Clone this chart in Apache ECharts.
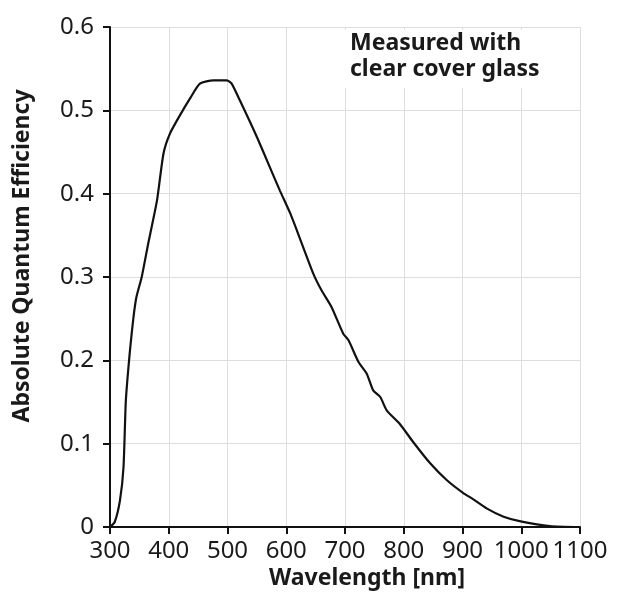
<!DOCTYPE html>
<html>
<head>
<meta charset="utf-8">
<script src="https://cdn.jsdelivr.net/npm/echarts@6/dist/echarts.min.js"></script>
<style>
html,body{margin:0;padding:0;background:#fff;}
#chart{width:640px;height:599px;}
</style>
</head>
<body>
<div id="chart"></div>
<script>
var wavelength = [300, 308, 317, 323, 327, 334, 340, 345, 354, 365, 380, 391, 402, 419, 436, 453, 476, 499, 507, 521, 550, 578, 589, 607, 618, 646, 660, 677, 697, 706, 723, 737, 748, 760, 771, 794, 816, 845, 873, 902, 916, 941, 970, 1001, 1049, 1100];
var efficiency = [0.0, 0.006, 0.032, 0.072, 0.152, 0.212, 0.252, 0.276, 0.300, 0.340, 0.392, 0.448, 0.472, 0.494, 0.514, 0.532, 0.536, 0.536, 0.532, 0.512, 0.468, 0.422, 0.404, 0.376, 0.356, 0.304, 0.284, 0.264, 0.232, 0.224, 0.198, 0.184, 0.164, 0.156, 0.140, 0.123, 0.102, 0.0764, 0.0564, 0.0404, 0.0344, 0.0224, 0.0124, 0.0064, 0.0012, 0.0];
var xTicks = [300, 400, 500, 600, 700, 800, 900, 1000, 1100];
var yTicks = [0, 0.1, 0.2, 0.3, 0.4, 0.5, 0.6];
var xTitle = 'Wavelength [nm]';
var yTitle = 'Absolute Quantum Efficiency';
var noteLines = ['Measured with', 'clear cover glass'];

var FONT = '"Noto Sans", sans-serif';
var chart = echarts.init(document.getElementById('chart'), null, {renderer: 'canvas'});
var pts = wavelength.map(function (w, i) { return [w, efficiency[i]]; });

chart.setOption({
  animation: false,
  backgroundColor: '#fff',
  grid: {left: 110, right: 60, top: 27, bottom: 72, containLabel: false},
  xAxis: {
    type: 'value', min: xTicks[0], max: xTicks[xTicks.length - 1], interval: 100,
    axisLine: {show: true, onZero: false, lineStyle: {color: '#111', width: 2}},
    axisTick: {show: true, length: 7, lineStyle: {color: '#111', width: 2}},
    axisLabel: {fontFamily: FONT, fontSize: 24, color: '#1a1a1a', margin: 12,
      showMinLabel: true, showMaxLabel: true, hideOverlap: false,
      formatter: function (v) { return String(Math.round(v)); }},
    splitLine: {show: true, lineStyle: {color: '#dedede', width: 1}}
  },
  yAxis: {
    type: 'value', min: yTicks[0], max: yTicks[yTicks.length - 1], interval: 0.1,
    axisLine: {show: true, lineStyle: {color: '#111', width: 2}},
    axisTick: {show: true, length: 7, lineStyle: {color: '#111', width: 2}},
    axisLabel: {fontFamily: FONT, fontSize: 24, color: '#1a1a1a', margin: 16,
      showMinLabel: true, showMaxLabel: true,
      formatter: function (v) { return v === 0 ? '0' : v.toFixed(1); }},
    splitLine: {show: true, lineStyle: {color: '#dedede', width: 1}}
  },
  graphic: [
    {type: 'rect', shape: {x: 345, y: 30, width: 210, height: 58}, style: {fill: '#fff'}, z: 5},
    {type: 'text', left: 350, top: 30, z: 6,
      style: {text: noteLines.join('\n'), fontFamily: FONT, fontWeight: 'bold', fontSize: 23, lineHeight: 26, fill: '#1a1a1a'}},
    {type: 'text', x: 367, y: 567, z: 6,
      style: {text: xTitle, fontFamily: FONT, fontWeight: 'bold', fontSize: 23, fill: '#1a1a1a', align: 'center', verticalAlign: 'top'}},
    {type: 'text', x: 22, y: 256, rotation: Math.PI / 2, z: 6,
      style: {text: yTitle, fontFamily: FONT, fontWeight: 'bold', fontSize: 23, fill: '#1a1a1a', align: 'center', verticalAlign: 'middle'}}
  ],
  series: [{
    type: 'line', data: pts, showSymbol: false, smooth: 0.2,
    lineStyle: {color: '#111', width: 2.2}, z: 10
  }]
});
</script>
</body>
</html>
